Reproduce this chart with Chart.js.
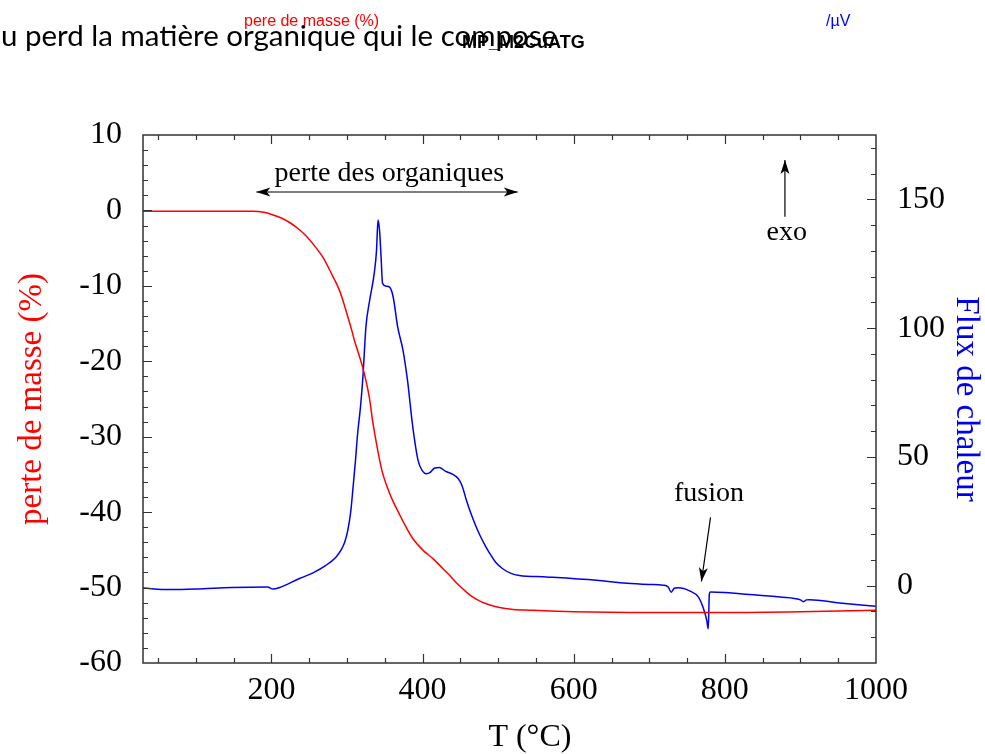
<!DOCTYPE html>
<html><head><meta charset="utf-8">
<script src="https://cdn.jsdelivr.net/npm/chart.js@4"></script>
<style>
html,body{margin:0;padding:0;background:#fff;}
#wrap{position:relative;width:985px;height:754px;overflow:hidden;background:#fff;}
#c{position:absolute;left:0;top:0;}
.hdr{position:absolute;white-space:nowrap;line-height:1;}
</style></head><body>
<div id="wrap">
<canvas id="c" width="985" height="754"></canvas>
<div class="hdr" style="left:1px;top:20px;font-family:Lato,sans-serif;font-size:29.5px;color:#000;">u perd la matière organique qui le compose</div>
<div class="hdr" style="left:244px;top:13px;font-family:'Liberation Sans',Arial,sans-serif;font-size:16px;color:#ff0000;">pere de masse (%)</div>
<div class="hdr" style="left:826px;top:13px;font-family:'Liberation Sans',Arial,sans-serif;font-size:16px;color:#0000ff;">/µV</div>
<div class="hdr" style="left:462px;top:33px;font-family:'Liberation Sans',Arial,sans-serif;font-size:18px;font-weight:bold;color:#000;">MP_M2CuATG</div>
</div>
<script>
// ---- data ----
const massT = [30, 80, 130, 175, 190, 202, 213, 224, 235, 246, 257, 268, 279, 290, 296, 301, 306, 310, 316, 321, 326, 330, 334, 341, 347, 354, 361, 368, 376, 387, 400, 414, 427, 436, 445, 458, 467, 478, 489, 500, 520, 542, 600, 700, 800, 900, 1000];
const massLoss = [-0.1, -0.1, -0.1, -0.1, -0.25, -0.6, -1.0, -1.6, -2.4, -3.4, -4.7, -6.2, -8.3, -10.6, -12.4, -14.1, -15.8, -17.3, -19.2, -20.9, -23.0, -25.1, -28.0, -32.0, -34.8, -36.9, -38.6, -40.0, -41.6, -43.5, -45.0, -46.2, -47.5, -48.4, -49.4, -50.6, -51.3, -51.9, -52.3, -52.6, -52.9, -53.0, -53.2, -53.3, -53.3, -53.2, -53.0];

const fluxT = [30, 65, 100, 148, 195, 202, 210, 237, 255, 272, 285, 292, 297, 301, 305, 308, 311, 314, 318, 321, 325, 330, 336, 339, 341, 343, 345, 347, 352, 356, 361, 367, 374, 380, 387, 394, 400, 405, 410, 416, 422, 430, 440, 447, 452, 458, 464, 470, 476, 483, 489, 497, 506, 517, 528, 564, 630, 670, 700, 718, 725, 729, 733, 738, 754, 765, 771, 776, 778, 779.5, 781, 800, 820, 873, 900, 904, 908, 912, 952, 1000];
const heatFlux = [-0.9, -1.5, -1.3, -0.7, -0.5, -1.3, -0.8, 2.8, 5.0, 7.9, 11.0, 13.8, 17.0, 21.5, 29, 38.3, 48, 59, 70, 81, 100.5, 110.9, 121.3, 130, 142, 138, 128, 117.4, 116.3, 116, 112.2, 100.5, 91.5, 79.8, 61.7, 48.7, 44.5, 43.5, 44.0, 45.7, 45.9, 44.5, 43.2, 41.6, 39.0, 33.2, 28.0, 23.5, 19.5, 15.5, 12.5, 9.0, 6.6, 4.8, 4.0, 3.4, 2.1, 1.0, 0.5, 0.2, -0.5, -2.5, -1.0, -0.8, -2.1, -4.4, -8.3, -13.4, -16.7, -3.1, -2.4, -2.6, -3.1, -4.4, -5.5, -6.2, -5.5, -5.4, -6.7, -8.0];

const tempTicks = [200, 400, 600, 800, 1000];
const massTicks = [-60, -50, -40, -30, -20, -10, 0, 10];
const fluxTicks = [0, 50, 100, 150];

// annotations (in data units of T and mass-loss axis)
const annoTexts = ['perte des organiques', 'exo', 'fusion'];
const annoT = [356, 882, 779];
const annoM = [3.9, -3.9, -38.5];

// ---- drawing ----
const SERIF = "'Liberation Serif','Times New Roman',serif";

function head(ctx, x1, y1, x2, y2, len, w) {
  const a = Math.atan2(y2 - y1, x2 - x1), c = Math.cos(a), s = Math.sin(a);
  ctx.beginPath();
  ctx.moveTo(x2, y2);
  ctx.lineTo(x2 - len * c + w * s, y2 - len * s - w * c);
  ctx.lineTo(x2 - 0.75 * len * c, y2 - 0.75 * len * s);
  ctx.lineTo(x2 - len * c - w * s, y2 - len * s + w * c);
  ctx.closePath();
  ctx.fill();
}
function arrow(ctx, x1, y1, x2, y2, both) {
  ctx.beginPath(); ctx.moveTo(x1, y1); ctx.lineTo(x2, y2); ctx.stroke();
  head(ctx, x1, y1, x2, y2, 14, 4.5);
  if (both) head(ctx, x2, y2, x1, y1, 14, 4.5);
}

const framePlugin = {
  id: 'frame',
  afterDraw(chart) {
    const {ctx, chartArea: a} = chart;
    const {x, y, y2} = chart.scales;
    ctx.save();
    ctx.strokeStyle = '#333';
    ctx.lineWidth = 1.5;
    ctx.strokeRect(a.left, a.top, a.right - a.left, a.bottom - a.top);
    ctx.lineWidth = 1.2;
    ctx.beginPath();
    // x ticks (bottom & top)
    for (let v = 50; v <= 1000; v += 50) {
      if (v <= x.min || v >= x.max) continue;
      const p = Math.round(x.getPixelForValue(v)) + 0.5;
      const L = tempTicks.includes(v) ? 9 : 5;
      ctx.moveTo(p, a.bottom); ctx.lineTo(p, a.bottom - L);
      ctx.moveTo(p, a.top); ctx.lineTo(p, a.top + L);
    }
    // left ticks
    for (let v = -58; v < 10; v += 2) {
      const p = Math.round(y.getPixelForValue(v)) + 0.5;
      const L = massTicks.includes(v) ? 9 : 5;
      ctx.moveTo(a.left, p); ctx.lineTo(a.left + L, p);
    }
    // right ticks
    for (let v = -30; v <= 170; v += 10) {
      if (v <= y2.min || v >= y2.max) continue;
      const p = Math.round(y2.getPixelForValue(v)) + 0.5;
      const L = fluxTicks.includes(v) ? 9 : 5;
      ctx.moveTo(a.right, p); ctx.lineTo(a.right - L, p);
    }
    ctx.stroke();

    // x axis title
    ctx.fillStyle = '#000';
    ctx.font = '32px ' + SERIF;
    ctx.textAlign = 'center';
    ctx.textBaseline = 'middle';
    ctx.fillText('T (°C)', x.getPixelForValue(542), chart.height - 16);

    // annotations
    ctx.font = '28px ' + SERIF;
    ctx.textBaseline = 'alphabetic';
    for (let i = 0; i < annoTexts.length; i++) {
      ctx.fillText(annoTexts[i], x.getPixelForValue(annoT[i]), y.getPixelForValue(annoM[i]));
    }
    ctx.strokeStyle = '#000';
    ctx.fillStyle = '#000';
    ctx.lineWidth = 1.2;
    arrow(ctx, x.getPixelForValue(180), y.getPixelForValue(2.44), x.getPixelForValue(526), y.getPixelForValue(2.44), true);
    arrow(ctx, x.getPixelForValue(879.5), y.getPixelForValue(-0.84), x.getPixelForValue(879.5), y.getPixelForValue(6.68), false);
    arrow(ctx, x.getPixelForValue(781), y.getPixelForValue(-40.7), x.getPixelForValue(769), y.getPixelForValue(-49.2), false);
    ctx.restore();
  }
};

const tickFont = {family: SERIF, size: 32};
const plain = v => String(v);
new Chart(document.getElementById('c'), {
  type: 'line',
  data: {
    datasets: [
      {label: 'perte de masse', data: massT.map((t, i) => ({x: t, y: massLoss[i]})), yAxisID: 'y',
       borderColor: '#ff0000', borderWidth: 1.5, pointRadius: 0, cubicInterpolationMode: 'monotone', fill: false},
      {label: 'Flux de chaleur', data: fluxT.map((t, i) => ({x: t, y: heatFlux[i]})), yAxisID: 'y2',
       borderColor: '#0000ee', borderWidth: 1.5, pointRadius: 0, cubicInterpolationMode: 'monotone', fill: false}
    ]
  },
  options: {
    responsive: false, animation: false, devicePixelRatio: 1,
    layout: {padding: {top: 135, left: 0, right: 0, bottom: 0}},
    plugins: {legend: {display: false}, tooltip: {enabled: false}},
    scales: {
      x: {type: 'linear', position: 'bottom', min: 30, max: 1000,
          grid: {display: false, drawTicks: false, tickLength: 0}, border: {display: false},
          afterBuildTicks: s => { s.ticks = tempTicks.map(v => ({value: v})); },
          afterFit: s => { s.height = 91; },
          ticks: {padding: 8, color: '#000', font: tickFont, maxRotation: 0, autoSkip: false, callback: plain}},
      y: {type: 'linear', position: 'left', min: -60, max: 10,
          grid: {display: false, drawTicks: false, tickLength: 0}, border: {display: false},
          afterBuildTicks: s => { s.ticks = massTicks.map(v => ({value: v})); },
          afterFit: s => { s.width = 143; },
          ticks: {padding: 21, color: '#000', font: tickFont, autoSkip: false, callback: plain},
          title: {display: true, text: 'perte de masse (%)', color: '#ff0000',
                  font: {family: SERIF, size: 33, lineHeight: 1}, padding: {top: 16, bottom: 0}}},
      y2: {type: 'linear', position: 'right', min: -30, max: 175,
          grid: {display: false, drawTicks: false, tickLength: 0}, border: {display: false},
          afterBuildTicks: s => { s.ticks = fluxTicks.map(v => ({value: v})); },
          afterFit: s => { s.width = 109; },
          ticks: {padding: 21, color: '#000', font: tickFont, autoSkip: false, callback: plain},
          title: {display: true, text: 'Flux de chaleur', color: '#0000ee',
                  font: {family: SERIF, size: 33, lineHeight: 1}, padding: {top: 3, bottom: 0}}}
    }
  },
  plugins: [framePlugin]
});
</script>
</body></html>
